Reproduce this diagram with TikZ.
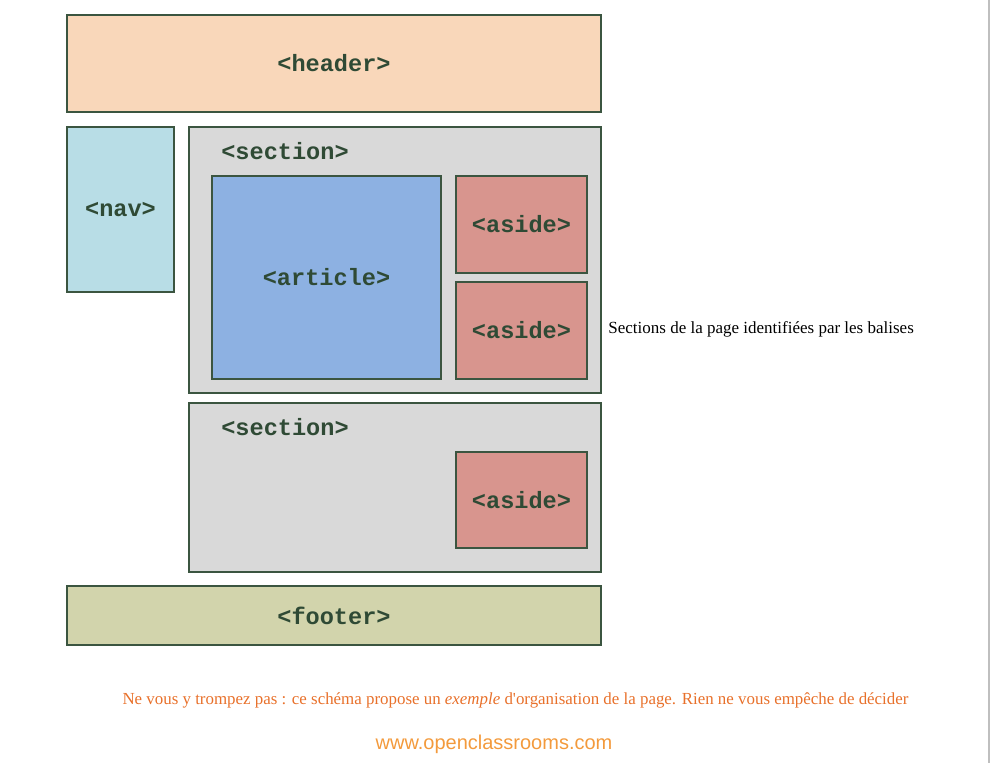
\documentclass[tikz,border=0pt]{standalone}
\usepackage{fontspec}
\setmainfont{Liberation Serif}
\setsansfont{Liberation Sans}
\setmonofont{Liberation Mono}
\usetikzlibrary{positioning}

\definecolor{edgegreen}{HTML}{3B5540}
\definecolor{tagtext}{HTML}{2F4A35}
\definecolor{headerfill}{HTML}{F9D7BA}
\definecolor{navfill}{HTML}{B8DDE6}
\definecolor{sectionfill}{HTML}{D9D9D9}
\definecolor{articlefill}{HTML}{8DB1E2}
\definecolor{asidefill}{HTML}{D8958E}
\definecolor{footerfill}{HTML}{D2D4AC}
\definecolor{noteorange}{HTML}{E8702A}
\definecolor{linkorange}{HTML}{F39A3C}

\begin{document}
\begin{tikzpicture}[x=0.5pt,y=-0.5pt]
        \useasboundingbox (0,0) rectangle (992,763);
        \draw[color=black!25, line width=1pt] (989,0) -- (989,763);
        \begin{scope}[every node/.style={draw=edgegreen, line width=0.7pt, inner sep=0pt, text=tagtext,
                        font=\ttfamily\bfseries\fontsize{11.8}{14}\selectfont}]
                \node[fill=headerfill, minimum width=267pt, minimum height=48.5pt] (header) at (334,63.5) {<header>};
                \node[fill=navfill, minimum width=53.5pt, minimum height=82.5pt] (nav) at (120.5,209.5) {<nav>};
                \node[fill=sectionfill, minimum width=206pt, minimum height=133pt] (secA) at (395,260) {};
                \node[fill=sectionfill, minimum width=206pt, minimum height=84.5pt] (secB) at (395,487.5) {};
                \node[fill=articlefill, minimum width=114.5pt, minimum height=101.5pt] (article) at (326.5,277.5) {<article>};
                \node[fill=asidefill, minimum width=65.5pt, minimum height=48.5pt] (asideA) at (521.5,224.5) {<aside>};
                \node[fill=asidefill, minimum width=65.5pt, minimum height=48.5pt] (asideB) at (521.5,330.5) {<aside>};
                \node[fill=asidefill, minimum width=65.5pt, minimum height=48pt] (asideC) at (521.5,500) {<aside>};
                \node[fill=footerfill, minimum width=267pt, minimum height=29.5pt] (footer) at (334,615.5) {<footer>};
                \node[draw=none] (secAlabel) at (285,151) {<section>};
                \node[draw=none] (secBlabel) at (285,427) {<section>};
        \end{scope}
        \node[anchor=west, inner sep=0pt, font=\fontsize{8.5}{10}\selectfont] (caption) at (608,329)
                {Sections de la page identifiées par les balises};
        \node[inner sep=0pt, text=noteorange, font=\fontsize{8.45}{10}\selectfont] (note) at (515.5,700)
                {Ne vous y trompez pas : ce schéma propose un \emph{exemple} d\textquotesingle organisation de la page. Rien ne vous empêche de décider};
        \node[inner sep=0pt, text=linkorange, font=\sffamily\fontsize{10}{12}\selectfont] (site) at (494,744)
                {www.openclassrooms.com};
\end{tikzpicture}
\end{document}
